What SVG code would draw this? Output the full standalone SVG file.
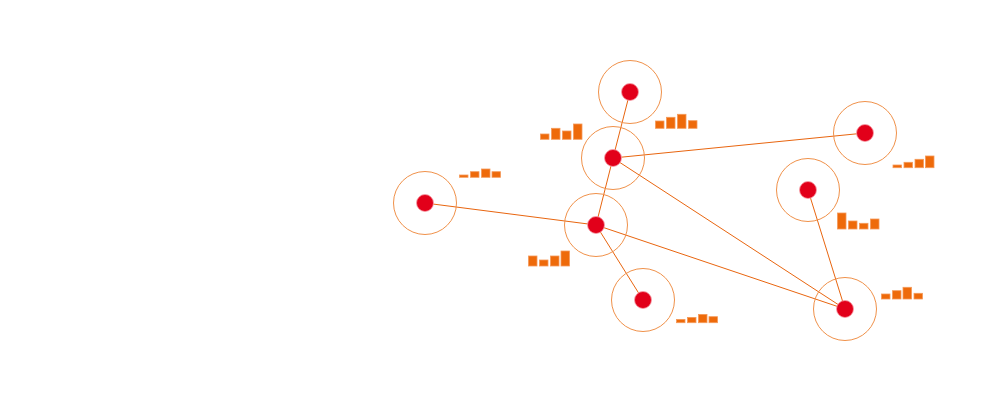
<svg xmlns="http://www.w3.org/2000/svg" width="1000" height="400" viewBox="0 0 1000 400">
<style>
.ring{fill:none;stroke:#F0914A;stroke-width:1}
.dot{fill:#E2001A;stroke:#F6A0A8;stroke-width:0.8}
.edge{stroke:#E8650F;stroke-width:1;fill:none}
.bar{fill:#EE6A0A;stroke:#F49A5A;stroke-width:0.8}
</style>
<rect width="1000" height="400" fill="#FFFFFF"/>
<g id="connectors">
<line class="edge" x1="630" y1="92" x2="613" y2="158"/>
<line class="edge" x1="613" y1="158" x2="865" y2="133"/>
<line class="edge" x1="613" y1="158" x2="596" y2="225"/>
<line class="edge" x1="613" y1="158" x2="845" y2="309"/>
<line class="edge" x1="425" y1="203" x2="596" y2="225"/>
<line class="edge" x1="596" y1="225" x2="845" y2="309"/>
<line class="edge" x1="596" y1="225" x2="643" y2="300"/>
<line class="edge" x1="808" y1="190" x2="845" y2="309"/>
</g>
<g id="node-a"><circle class="ring" cx="630" cy="92" r="31.5"/><circle class="dot" cx="630" cy="92" r="8.5"/>
<rect class="bar" x="655.5" y="121" width="8.5" height="7.3"/><rect class="bar" x="666.5" y="117.3" width="8.5" height="11"/><rect class="bar" x="677.5" y="114.3" width="8.5" height="14"/><rect class="bar" x="688.5" y="120.7" width="8.5" height="7.6"/></g>
<g id="node-b"><circle class="ring" cx="613" cy="158" r="31.5"/><circle class="dot" cx="613" cy="158" r="8.5"/>
<rect class="bar" x="540.5" y="134" width="8.5" height="5.3"/><rect class="bar" x="551.5" y="128.3" width="8.5" height="11"/><rect class="bar" x="562.5" y="131" width="8.5" height="8.3"/><rect class="bar" x="573.5" y="124" width="8.5" height="15.3"/></g>
<g id="node-c"><circle class="ring" cx="865" cy="133" r="31.5"/><circle class="dot" cx="865" cy="133" r="8.5"/>
<rect class="bar" x="893" y="165" width="8.5" height="2.7"/><rect class="bar" x="904" y="162.3" width="8.5" height="5.4"/><rect class="bar" x="915" y="159.3" width="8.5" height="8.4"/><rect class="bar" x="925.5" y="156" width="8.5" height="11.7"/></g>
<g id="node-d"><circle class="ring" cx="425" cy="203" r="31.5"/><circle class="dot" cx="425" cy="203" r="8.5"/>
<rect class="bar" x="459.5" y="175" width="8.5" height="2.3"/><rect class="bar" x="470.5" y="171.7" width="8.5" height="5.6"/><rect class="bar" x="481.5" y="169" width="8.5" height="8.3"/><rect class="bar" x="492" y="171.7" width="8.5" height="5.6"/></g>
<g id="node-e"><circle class="ring" cx="596" cy="225" r="31.5"/><circle class="dot" cx="596" cy="225" r="8.5"/>
<rect class="bar" x="528.5" y="256" width="8.5" height="10"/><rect class="bar" x="539.5" y="260" width="8.5" height="6"/><rect class="bar" x="550.5" y="256" width="8.5" height="10"/><rect class="bar" x="561" y="251" width="8.5" height="15"/></g>
<g id="node-f"><circle class="ring" cx="808" cy="190" r="31.5"/><circle class="dot" cx="808" cy="190" r="8.5"/>
<rect class="bar" x="837.5" y="213" width="8.5" height="16"/><rect class="bar" x="848.5" y="221" width="8.5" height="8"/><rect class="bar" x="859.5" y="223.3" width="8.5" height="5.7"/><rect class="bar" x="870.5" y="219" width="8.5" height="10"/></g>
<g id="node-g"><circle class="ring" cx="643" cy="300" r="31.5"/><circle class="dot" cx="643" cy="300" r="8.5"/>
<rect class="bar" x="676.5" y="319.4" width="8.5" height="3.3"/><rect class="bar" x="687.5" y="317.4" width="8.5" height="5.3"/><rect class="bar" x="698.5" y="314.4" width="8.5" height="8.3"/><rect class="bar" x="709" y="316.7" width="8.5" height="6"/></g>
<g id="node-h"><circle class="ring" cx="845" cy="309" r="31.5"/><circle class="dot" cx="845" cy="309" r="8.5"/>
<rect class="bar" x="881.5" y="294" width="8.5" height="5"/><rect class="bar" x="892.5" y="290.7" width="8.5" height="8.3"/><rect class="bar" x="903" y="287.3" width="8.5" height="11.7"/><rect class="bar" x="914" y="293.3" width="8.5" height="5.7"/></g>
</svg>
